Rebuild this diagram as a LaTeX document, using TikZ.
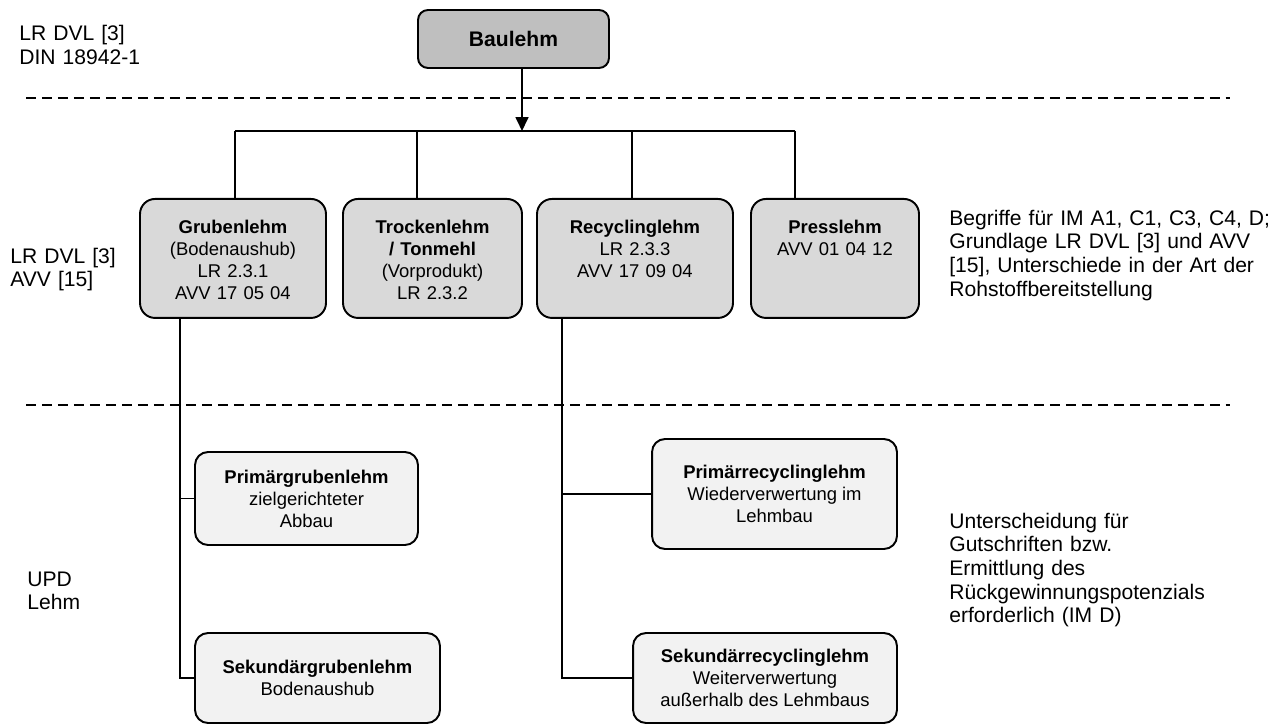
\documentclass[tikz,border=0pt]{standalone}
\usepackage{fontspec}
\setmainfont{Liberation Sans}
\usetikzlibrary{positioning,arrows.meta}

\definecolor{topgray}{HTML}{BFBFBF}
\definecolor{midgray}{HTML}{D9D9D9}
\definecolor{subgray}{HTML}{F2F2F2}

\tikzset{
  topbox/.style={draw, line width=1.1pt, rounded corners=0.2cm, fill=topgray,
    minimum width=3.82cm, minimum height=1.16cm, font=\fontsize{12}{12.8}\selectfont\bfseries},
  groupbox/.style={draw, line width=1.1pt, rounded corners=0.3cm, fill=midgray,
    anchor=north, align=center, inner xsep=0pt, inner ysep=0.16cm,
    text height=0.53cm, text depth=1.53cm},
  subbox/.style={draw, line width=1.1pt, rounded corners=0.26cm, fill=subgray,
    align=center, inner sep=0pt},
  sidetext/.style={anchor=base west, align=left, inner sep=0pt, text width=8cm,
    font=\fontsize{12}{13.5}\selectfont},
  conn/.style={line width=1pt},
  level/.style={line width=1.1pt, dash pattern=on 0.2cm off 0.12cm}
}

\begin{document}
\begin{tikzpicture}[x=0.02cm, y=-0.02cm, font=\fontsize{10.5}{12.5}\selectfont]
    \useasboundingbox (0,0) rectangle (1277,726);

    % Ebenen
    \draw [level] (26,98) -- (1230,98);
    \draw [level] (26,405) -- (1230,405);

    % Oberbegriff
    \node [topbox] (baulehm) at (513.5,39) {Baulehm};

    % Lehmarten
    \node [groupbox, text width=3.72cm] (gruben) at (233,198)
        {\textbf{Grubenlehm}\\(Bodenaushub)\\LR 2.3.1\\AVV 17 05 04};
    \node [groupbox, text width=3.58cm] (trocken) at (432.5,198)
        {\textbf{Trockenlehm}\\\textbf{/ Tonmehl}\\(Vorprodukt)\\LR 2.3.2};
    \node [groupbox, text width=3.92cm] (recycling) at (635,198)
        {\textbf{Recyclinglehm}\\LR 2.3.3\\AVV 17 09 04};
    \node [groupbox, text width=3.36cm] (press) at (835,198)
        {\textbf{Presslehm}\\AVV 01 04 12};

    % Unterarten
    \node [subbox, minimum width=4.46cm, minimum height=1.86cm] (pgruben) at (306.5,498.5)
        {\textbf{Primärgrubenlehm}\\zielgerichteter\\Abbau};
    \node [subbox, minimum width=4.9cm, minimum height=1.8cm] (sgruben) at (317.5,678)
        {\textbf{Sekundärgrubenlehm}\\Bodenaushub};
    \node [subbox, minimum width=4.9cm, minimum height=2.2cm] (precycling) at (774.5,494)
        {\textbf{Primärrecyclinglehm}\\Wiederverwertung im\\Lehmbau};
    \node [subbox, minimum width=5.28cm, minimum height=1.8cm] (srecycling) at (765,678)
        {\textbf{Sekundärrecyclinglehm}\\Weiterverwertung\\außerhalb des Lehmbaus};

    % Verbindungen
    \coordinate (hub) at (522,131);
    \coordinate (bus1) at (235,131);
    \coordinate (bus2) at (417,131);
    \coordinate (bus3) at (632,131);
    \coordinate (bus4) at (795,131);
    \draw [conn, -{Triangle[length=0.28cm, width=0.26cm]}] (baulehm.south -| hub) -- (hub);
    \draw [conn] (bus1) -- (bus4);
    \foreach \b/\n in {bus1/gruben, bus2/trocken, bus3/recycling, bus4/press}
        \draw [conn] (\b) -- (\b |- \n.north);

    \coordinate (gtrunk) at (180,0);
    \coordinate (rtrunk) at (562,0);
    \draw [conn] (gruben.south -| gtrunk) |- (sgruben.west);
    \draw [conn] (gtrunk |- pgruben.west) -- (pgruben.west);
    \draw [conn] (recycling.south -| rtrunk) |- (srecycling.west);
    \draw [conn] (rtrunk |- precycling.west) -- (precycling.west);

    % Randtexte
    \node [sidetext] (norm) at (19,41) {LR DVL [3]\\DIN 18942-1};
    \node [sidetext] (quelle) at (10,263) {LR DVL [3]\\AVV [15]};
    \node [sidetext] (upd) at (27,586) {UPD\\Lehm};
    \node [sidetext] (begriffe) at (949,225)
        {Begriffe für IM A1, C1, C3, C4, D;\\Grundlage LR DVL [3] und AVV\\{}[15], Unterschiede in der Art der\\Rohstoffbereitstellung};
    \node [sidetext] (gutschrift) at (949,528)
        {Unterscheidung für\\Gutschriften bzw.\\Ermittlung des\\Rückgewinnungspotenzials\\erforderlich (IM D)};
\end{tikzpicture}
\end{document}
